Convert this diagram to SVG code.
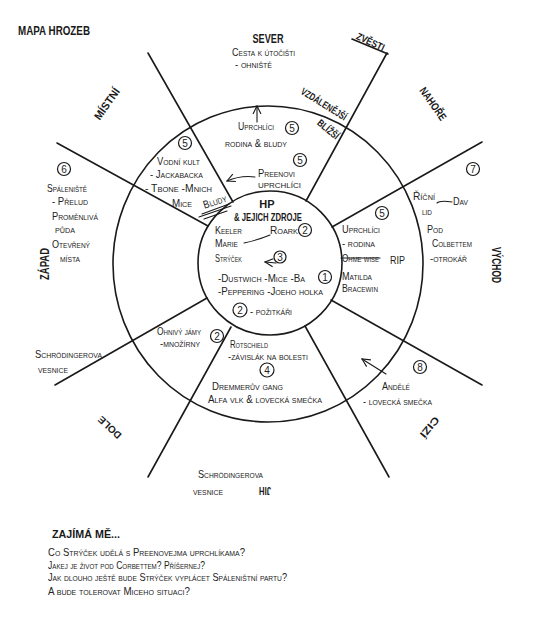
<svg xmlns="http://www.w3.org/2000/svg" width="536" height="637" viewBox="0 0 536 637">
<style>
.ln{stroke:#1a1a1a;stroke-width:1.6;fill:none;stroke-linecap:round}
.th{stroke:#1a1a1a;stroke-width:1.1;fill:none;stroke-linecap:round}
.h{font-family:"Liberation Sans Narrow","Liberation Sans",Arial,sans-serif;font-weight:bold;fill:#1a1a1a}
.s{font-family:"Liberation Sans Narrow","Liberation Sans",Arial,sans-serif;font-variant:small-caps;font-size:11px;fill:#222}
.n{font-family:"Liberation Sans",Arial,sans-serif;font-size:10px;fill:#222;text-anchor:middle}
.c{stroke:#1a1a1a;stroke-width:1.2;fill:none}
</style>
<defs>
<marker id="ah" markerWidth="10" markerHeight="10" refX="9" refY="5" orient="auto" markerUnits="userSpaceOnUse">
<path d="M1,1 L9,5 L1,9" fill="none" stroke="#1a1a1a" stroke-width="1.1"/>
</marker>
</defs>
<rect width="536" height="637" fill="#fff"/>

<g id="connectors">
<ellipse class="ln" cx="268" cy="264" rx="155" ry="158"/>
<circle class="ln" cx="270" cy="263" r="72"/>
<line class="ln" x1="148" y1="53" x2="233" y2="202"/>
<line class="ln" x1="387" y1="53" x2="306" y2="201"/>
<line class="ln" x1="352" y1="39" x2="388" y2="54"/>
<line class="ln" x1="482" y1="142" x2="332" y2="227"/>
<line class="ln" x1="482" y1="385" x2="331" y2="300"/>
<line class="ln" x1="389" y1="477" x2="305" y2="326"/>
<line class="ln" x1="148" y1="477" x2="231" y2="327"/>
<line class="ln" x1="55" y1="385" x2="207" y2="298"/>
<line class="ln" x1="57" y1="143" x2="208" y2="226"/>
<path class="th" d="M257,122 L257,106" marker-end="url(#ah)"/>
<path class="th" d="M255,177 Q241,175 227,181" marker-end="url(#ah)"/>
<path class="th" d="M244,243 Q258,240 270,235"/>
<path class="th" d="M276,263 L265,262" marker-end="url(#ah)"/>
<path class="th" d="M437,203 Q440,200 452,202"/>
<path class="th" d="M386,374 L362,359" marker-end="url(#ah)"/>
</g>

<g id="title"><text class="h" x="18" y="35" font-size="13" textLength="72" lengthAdjust="spacingAndGlyphs">MAPA HROZEB</text></g>

<g id="labels">
<text class="h" font-size="10" text-anchor="middle" transform="translate(369,45) rotate(25)" textLength="30" lengthAdjust="spacingAndGlyphs">ZVĚSTI</text>
<text class="h" font-size="10" text-anchor="middle" transform="translate(322,107) rotate(32)" textLength="52" lengthAdjust="spacingAndGlyphs">VZDÁLENĚJŠÍ</text>
<text class="h" font-size="10" text-anchor="middle" transform="translate(326,132) rotate(40)" textLength="25" lengthAdjust="spacingAndGlyphs">BLÍŽŠÍ</text>
<text class="h" font-size="11" text-anchor="middle" transform="translate(430,106) rotate(55)" textLength="38" lengthAdjust="spacingAndGlyphs">NAHOŘE</text>
<text class="h" font-size="11" text-anchor="middle" transform="translate(110,106) rotate(-55)" textLength="36" lengthAdjust="spacingAndGlyphs">MÍSTNÍ</text>
<text class="h" font-size="12" text-anchor="middle" transform="translate(492,265) rotate(90)" textLength="36" lengthAdjust="spacingAndGlyphs">VÝCHOD</text>
<text class="h" font-size="12" text-anchor="middle" transform="translate(49,264) rotate(-90)" textLength="32" lengthAdjust="spacingAndGlyphs">ZÁPAD</text>
<text class="h" font-size="10" text-anchor="middle" transform="translate(427,425) rotate(130)" textLength="24" lengthAdjust="spacingAndGlyphs">CIZÍ</text>
<text class="h" font-size="11" text-anchor="middle" transform="translate(265,487) rotate(180)" textLength="12" lengthAdjust="spacingAndGlyphs">JIH</text>
<text class="h" font-size="10" text-anchor="middle" transform="translate(112,425) rotate(-137)" textLength="28" lengthAdjust="spacingAndGlyphs">DOLE</text>
</g>

<g id="sever">
<text class="h" x="268" y="43" font-size="13" text-anchor="middle" textLength="31" lengthAdjust="spacingAndGlyphs">SEVER</text>
<text class="s" x="232" y="56" textLength="63" lengthAdjust="spacingAndGlyphs">Cesta k útočišti</text>
<text class="s" x="235" y="68" textLength="37" lengthAdjust="spacingAndGlyphs">- ohniště</text>
</g>

<g id="uprchlici-sever">
<text class="s" x="238" y="130" textLength="36" lengthAdjust="spacingAndGlyphs">Uprchlíci</text>
<circle class="c" cx="292" cy="128" r="6.5"/><text class="n" x="292" y="132">5</text>
<text class="s" x="225" y="147" textLength="62" lengthAdjust="spacingAndGlyphs">rodina &amp; bludy</text>
</g>

<g id="preenovi">
<circle class="c" cx="300" cy="160" r="6.5"/><text class="n" x="300" y="164">5</text>
<text class="s" x="258" y="177" textLength="37" lengthAdjust="spacingAndGlyphs">Preenovi</text>
<text class="s" x="258" y="188" textLength="43" lengthAdjust="spacingAndGlyphs">uprchlíci</text>
</g>

<g id="vodni-kult">
<circle class="c" cx="185" cy="143" r="6.5"/><text class="n" x="185" y="147">5</text>
<text class="s" x="157" y="165" textLength="43" lengthAdjust="spacingAndGlyphs">Vodní kult</text>
<text class="s" x="150" y="178" textLength="53" lengthAdjust="spacingAndGlyphs">- Jackabacka</text>
<text class="s" x="145" y="192" textLength="67" lengthAdjust="spacingAndGlyphs">- Tbone -Mnich</text>
<text class="s" x="172" y="207" textLength="20" lengthAdjust="spacingAndGlyphs">Mice</text>
<text class="s" font-size="10" text-anchor="middle" transform="translate(216,205) rotate(-18)" textLength="24" lengthAdjust="spacingAndGlyphs">Bludy</text>
<path class="th" d="M202,214 L229,204 M199,217 L231,206 M204,219 L227,211"/>
</g>

<g id="hp">
<text class="h" x="267" y="208" font-size="11" text-anchor="middle">HP</text>
<text class="h" x="268" y="221" font-size="10" text-anchor="middle" textLength="68" lengthAdjust="spacingAndGlyphs">&amp; JEJICH ZDROJE</text>
<text class="s" x="215" y="234" textLength="27" lengthAdjust="spacingAndGlyphs">Keeler</text>
<text class="s" x="270" y="234" textLength="28" lengthAdjust="spacingAndGlyphs">Roark</text>
<circle class="c" cx="305" cy="230" r="6.5"/><text class="n" x="305" y="234">2</text>
<text class="s" x="215" y="247" textLength="23" lengthAdjust="spacingAndGlyphs">Marie</text>
<text class="s" x="215" y="262" textLength="27" lengthAdjust="spacingAndGlyphs">Strýček</text>
<circle class="c" cx="280" cy="257" r="6"/><text class="n" x="280" y="261">3</text>
<text class="s" x="218" y="282" textLength="87" lengthAdjust="spacingAndGlyphs">-Dustwich -Mice -Ba</text>
<circle class="c" cx="325" cy="277" r="6.5"/><text class="n" x="325" y="281">1</text>
<text class="s" x="218" y="295" textLength="105" lengthAdjust="spacingAndGlyphs">-Peppering -Joeho holka</text>
<circle class="c" cx="240" cy="310" r="7"/><text class="n" x="240" y="314">2</text>
<text class="s" x="250" y="315" font-size="9" textLength="42" lengthAdjust="spacingAndGlyphs">- požitkáři</text>
</g>

<g id="uprchlici-vychod">
<circle class="c" cx="382" cy="213" r="6.5"/><text class="n" x="382" y="217">5</text>
<text class="s" x="342" y="233" textLength="38" lengthAdjust="spacingAndGlyphs">Uprchlíci</text>
<text class="s" x="342" y="247" textLength="33" lengthAdjust="spacingAndGlyphs">- rodina</text>
<text class="s" x="342" y="262" font-size="9" textLength="37" lengthAdjust="spacingAndGlyphs">Ohme wise</text>
<line class="th" x1="341" y1="258" x2="380" y2="258"/>
<text class="s" x="390" y="264" font-size="12" textLength="15" lengthAdjust="spacingAndGlyphs">RIP</text>
<text class="s" x="342" y="280" textLength="30" lengthAdjust="spacingAndGlyphs">Matilda</text>
<text class="s" x="342" y="292" textLength="36" lengthAdjust="spacingAndGlyphs">Bracewin</text>
</g>

<g id="ricni-lid">
<circle class="c" cx="473" cy="169" r="6.5"/><text class="n" x="473" y="173">7</text>
<text class="s" x="413" y="200" textLength="22" lengthAdjust="spacingAndGlyphs">Říční</text>
<text class="s" x="453" y="205" textLength="15" lengthAdjust="spacingAndGlyphs">Dav</text>
<text class="s" x="422" y="215" font-size="9" textLength="10" lengthAdjust="spacingAndGlyphs">lid</text>
<text class="s" x="427" y="233" textLength="16" lengthAdjust="spacingAndGlyphs">Pod</text>
<text class="s" x="432" y="247" textLength="40" lengthAdjust="spacingAndGlyphs">Colbettem</text>
<text class="s" x="430" y="262" textLength="37" lengthAdjust="spacingAndGlyphs">-otrokář</text>
</g>

<g id="spaleniste">
<circle class="c" cx="64" cy="169" r="6.5"/><text class="n" x="64" y="173">6</text>
<text class="s" x="47" y="192" textLength="40" lengthAdjust="spacingAndGlyphs">Spáleniště</text>
<text class="s" x="52" y="205" textLength="36" lengthAdjust="spacingAndGlyphs">- Přelud</text>
<text class="s" x="52" y="220" textLength="46" lengthAdjust="spacingAndGlyphs">Proměnlivá</text>
<text class="s" x="55" y="233" font-size="9" textLength="20" lengthAdjust="spacingAndGlyphs">půda</text>
<text class="s" x="52" y="248" textLength="38" lengthAdjust="spacingAndGlyphs">Otevřený</text>
<text class="s" x="60" y="262" font-size="9" textLength="20" lengthAdjust="spacingAndGlyphs">místa</text>
</g>

<g id="schrodinger-zapad">
<text class="s" x="35" y="358" textLength="67" lengthAdjust="spacingAndGlyphs">Schrödingerova</text>
<text class="s" x="38" y="373" font-size="9" textLength="30" lengthAdjust="spacingAndGlyphs">vesnice</text>
</g>

<g id="ohnive-jamy">
<text class="s" x="157" y="335" font-size="10" textLength="44" lengthAdjust="spacingAndGlyphs">Ohnivý jámy</text>
<circle class="c" cx="217" cy="336" r="6.5"/><text class="n" x="217" y="340">2</text>
<text class="s" x="160" y="347" font-size="9" textLength="40" lengthAdjust="spacingAndGlyphs">-množírny</text>
</g>

<g id="rotschield">
<text class="s" x="230" y="348" textLength="38" lengthAdjust="spacingAndGlyphs">Rotschield</text>
<text class="s" x="228" y="360" textLength="80" lengthAdjust="spacingAndGlyphs">-závislák na bolesti</text>
<circle class="c" cx="267" cy="370" r="7"/><text class="n" x="267" y="374">4</text>
<text class="s" x="212" y="390" textLength="71" lengthAdjust="spacingAndGlyphs">Dremmerův gang</text>
<text class="s" x="208" y="403" textLength="114" lengthAdjust="spacingAndGlyphs">Alfa vlk &amp; lovecká smečka</text>
</g>

<g id="andele">
<circle class="c" cx="420" cy="367" r="6.5"/><text class="n" x="420" y="371">8</text>
<text class="s" x="382" y="390" textLength="28" lengthAdjust="spacingAndGlyphs">Andělé</text>
<text class="s" x="363" y="405" textLength="69" lengthAdjust="spacingAndGlyphs">- lovecká smečka</text>
</g>

<g id="schrodinger-jih">
<text class="s" x="198" y="478" textLength="65" lengthAdjust="spacingAndGlyphs">Schrödingerova</text>
<text class="s" x="193" y="495" font-size="9" textLength="30" lengthAdjust="spacingAndGlyphs">vesnice</text>
</g>

<g id="zajima-me">
<text class="h" x="52" y="538" font-size="11" textLength="68" lengthAdjust="spacingAndGlyphs">ZAJÍMÁ MĚ...</text>
<text class="s" x="48" y="556" textLength="197" lengthAdjust="spacingAndGlyphs">Co Strýček udělá s Preenovejma uprchlíkama?</text>
<text class="s" x="48" y="569" textLength="157" lengthAdjust="spacingAndGlyphs">Jakej je život pod Corbettem? Příšernej?</text>
<text class="s" x="48" y="581" textLength="239" lengthAdjust="spacingAndGlyphs">Jak dlouho ještě bude Strýček vyplácet Spáleništní partu?</text>
<text class="s" x="48" y="595" textLength="142" lengthAdjust="spacingAndGlyphs">A bude tolerovat Miceho situaci?</text>
</g>
</svg>
